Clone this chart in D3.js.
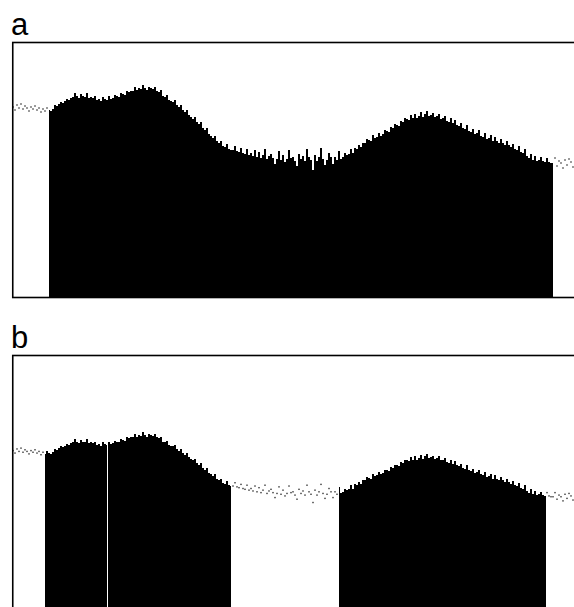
<!DOCTYPE html>
<html>
<head>
<meta charset="utf-8">
<script src="https://cdn.jsdelivr.net/npm/d3@7"></script>
<style>
  body { margin: 0; background: #fff; }
  svg { display: block; }
</style>
</head>
<body>
<svg width="574" height="607"></svg>
<script>
"use strict";

// coverage per bin (one bin = one position step)
var coverage = [
  191,188,193,190,194,189,192,190,187,191,
  189,192,188,190,186,189,187,190,188,187,
  189,193,192,194,196,195,197,199,198,200,
  201,205,202,200,204,202,201,205,200,201,
  200,202,198,199,197,201,199,198,202,199,
  200,203,202,201,205,204,203,207,206,207,
  207,211,208,210,209,213,210,208,211,210,
  209,211,207,206,208,202,201,203,198,197,
  196,198,193,191,193,188,186,188,183,181,
  179,181,176,174,176,170,168,170,164,162,
  160,162,157,155,157,152,151,154,149,148,
  148,152,147,146,150,145,144,149,143,145,
  142,148,141,146,140,143,149,139,142,144,
  140,134,139,147,138,143,136,139,148,140,
  141,137,132,144,139,142,137,149,141,138,
  128,143,137,141,150,139,133,138,145,141,
  134,141,138,147,139,141,145,143,144,149,
  145,150,149,153,151,155,155,159,158,157,
  163,160,161,165,162,164,168,167,166,171,
  170,174,173,172,177,176,180,179,178,183,
  180,184,180,182,186,181,184,187,182,183,
  185,181,182,184,179,180,182,177,176,180,
  175,178,173,172,175,170,169,173,167,166,
  169,164,165,168,162,161,165,159,160,163,
  157,161,157,155,159,155,153,157,153,151,
  154,149,148,152,146,145,149,142,140,144,
  138,142,137,138,141,137,136,140,136,135,
  135,140,132,137,135,130,138,133,139,136,131
];

// kept regions (bin units) shown as bars, the rest as dots
var regionsA = [[18.5, 270.5]];
var regionsB = [[16.5, 47.5], [48, 109.5], [163.5, 267]];

var labels = ['a', 'b'];

var svg = d3.select("svg");

var x = d3.scaleLinear().domain([0, coverage.length]).range([12, 574]);

var panels = [
  {label: labels[0], regions: regionsA, top: 42.5, bottom: 297.5,
   y: d3.scaleLinear().domain([0, 256]).range([298, 42])},
  {label: labels[1], regions: regionsB, top: 355.5, bottom: 611,
   y: d3.scaleLinear().domain([0, 307]).range([608, 355])}
];

function inRegion(regions, i) {
  var c = i + 0.5;
  return regions.some(r => c >= r[0] && c <= r[1]);
}

panels.forEach(p => {
  var g = svg.append("g");

  // bars, cut to the region edges
  var bars = [];
  p.regions.forEach(r => {
    coverage.forEach((v, i) => {
      var x0 = Math.max(i, r[0]), x1 = Math.min(i + 1, r[1]);
      if (x1 > x0) bars.push({x0: x0, x1: x1, v: v});
    });
  });

  g.append("g").selectAll("rect")
    .data(bars)
    .enter()
    .append("rect")
    .attr('x', d => x(d.x0))
    .attr('width', d => x(d.x1) - x(d.x0))
    .attr('y', d => p.y(d.v))
    .attr('height', d => p.bottom - p.y(d.v))
    .attr('fill', 'black')
    .attr('shape-rendering', 'crispEdges');

  var dots = coverage.map((v, i) => ({i: i, v: v}))
    .filter(d => !inRegion(p.regions, d.i));

  g.append("g").selectAll("rect")
    .data(dots)
    .enter()
    .append("rect")
    .attr('x', d => x(d.i + 0.5) - 0.7)
    .attr('y', d => p.y(d.v) - 0.7)
    .attr('width', 1.4)
    .attr('height', 1.4)
    .attr('fill', '#333');

  g.append("rect")
    .attr('x', 12.75)
    .attr('y', p.top)
    .attr('width', 570)
    .attr('height', p.bottom - p.top)
    .attr('fill', 'none')
    .attr('stroke', 'black')
    .attr('stroke-width', 1.6);

  g.append("text")
    .attr('x', 11)
    .attr('y', p.top - 7.5)
    .attr('font-family', 'Liberation Sans, Arial, sans-serif')
    .attr('font-size', 31)
    .attr('fill', 'black')
    .text(p.label);
});
</script>
</body>
</html>
